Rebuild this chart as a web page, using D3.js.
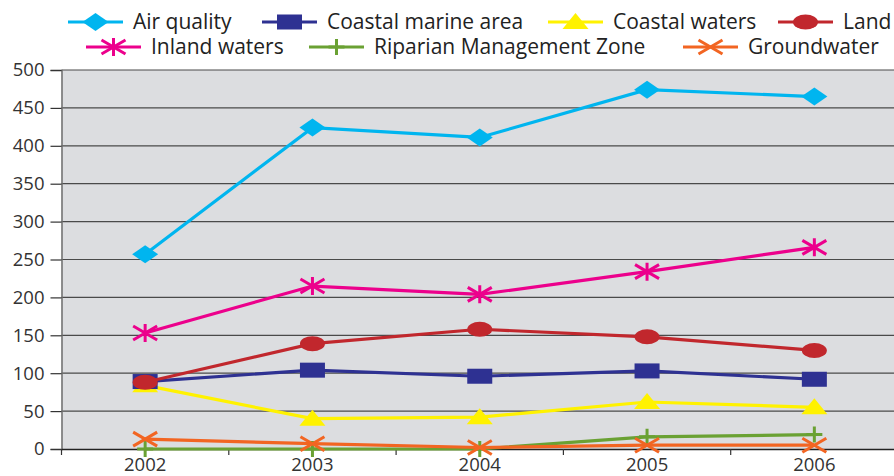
<!DOCTYPE html>
<html>
<head>
<meta charset="utf-8">
<script src="https://cdn.jsdelivr.net/npm/d3@7/dist/d3.min.js"></script>
<style>
  html, body { margin: 0; padding: 0; background: #ffffff; }
  svg { display: block; font-family: "Open Sans", "Noto Sans", sans-serif; }
</style>
</head>
<body>
<svg id="chart" width="894" height="476"></svg>
<script>
// Categories and series values
const years = ["2002", "2003", "2004", "2005", "2006"];
const airQuality = [257, 424, 411, 474, 465];
const coastalMarineArea = [89, 104, 96, 103, 92];
const coastalWaters = [84, 40, 42, 62, 55];
const land = [88, 139, 158, 148, 130];
const inlandWaters = [153, 215, 204, 234, 266];
const riparianZone = [0, 0, 0, 16, 19];
const groundwater = [13, 7, 2, 5, 5];
const yTicks = [0, 50, 100, 150, 200, 250, 300, 350, 400, 450, 500];

const series = [
  { name: "Air quality", values: airQuality, color: "#00b5ef", marker: "diamond" },
  { name: "Coastal marine area", values: coastalMarineArea, color: "#2e3192", marker: "square" },
  { name: "Coastal waters", values: coastalWaters, color: "#fff200", marker: "triangle" },
  { name: "Land", values: land, color: "#c1272d", marker: "circle" },
  { name: "Inland waters", values: inlandWaters, color: "#ec008c", marker: "asterisk" },
  { name: "Riparian Management Zone", values: riparianZone, color: "#6aa133", marker: "plus" },
  { name: "Groundwater", values: groundwater, color: "#f26522", marker: "cross" }
];

const svg = d3.select("#chart");
const plot = { left: 61.5, right: 898, top: 70, bottom: 449 };

const x = d3.scaleBand().domain(years).range([plot.left, plot.right]);
const y = d3.scaleLinear().domain([0, 500]).range([plot.bottom, plot.top]);

// Plot background
svg.append("rect")
  .attr("x", plot.left).attr("y", plot.top)
  .attr("width", plot.right - plot.left).attr("height", plot.bottom - plot.top)
  .attr("fill", "#dcdde0");

// Horizontal gridlines
svg.append("g")
  .selectAll("line")
  .data(yTicks.filter(d => d > 0))
  .join("line")
  .attr("x1", plot.left).attr("x2", plot.right)
  .attr("y1", d => y(d)).attr("y2", d => y(d))
  .attr("stroke", "#4a4a4a").attr("stroke-width", 1.2);

// Y axis
const yAxis = svg.append("g")
  .attr("transform", `translate(${plot.left},0)`)
  .call(d3.axisLeft(y).tickValues(yTicks).tickSize(11).tickPadding(6));
yAxis.select(".domain").attr("stroke", "#6d6d6d").attr("stroke-width", 1.5);
yAxis.selectAll(".tick line").attr("stroke", "#333").attr("stroke-width", 1.2);
yAxis.selectAll(".tick text")
  .attr("font-size", 18.5).attr("fill", "#333")
  .attr("font-family", "'Open Sans', 'Noto Sans', sans-serif");

// X axis with ticks at category boundaries
const xAxis = svg.append("g")
  .attr("transform", `translate(0,${plot.bottom})`)
  .call(d3.axisBottom(x).tickSize(0).tickPadding(9));
xAxis.select(".domain").attr("stroke", "#222").attr("stroke-width", 1.5);
xAxis.selectAll(".tick text")
  .attr("font-size", 18.5).attr("fill", "#333")
  .attr("font-family", "'Open Sans', 'Noto Sans', sans-serif");
xAxis.selectAll(".boundary")
  .data(years)
  .join("line")
  .attr("class", "boundary")
  .attr("x1", d => x(d)).attr("x2", d => x(d))
  .attr("y1", 0).attr("y2", 6)
  .attr("stroke", "#333").attr("stroke-width", 1.2);

// Marker shapes, drawn around (0,0)
function drawMarker(g, type, color) {
  switch (type) {
    case "diamond":
      g.append("path").attr("d", "M-13,0 L0,-9 L13,0 L0,9 Z").attr("fill", color);
      break;
    case "square":
      g.append("rect").attr("x", -12.5).attr("y", -7.5).attr("width", 25).attr("height", 15).attr("fill", color);
      break;
    case "triangle":
      g.append("path").attr("d", "M0,-9 L13,7 L-13,7 Z").attr("fill", color);
      break;
    case "circle":
      g.append("ellipse").attr("rx", 12.5).attr("ry", 7.5).attr("fill", color);
      break;
    case "asterisk":
      g.append("path").attr("d", "M-12,-7 L12,7 M-12,7 L12,-7 M0,-9 L0,9")
        .attr("stroke", color).attr("stroke-width", 3).attr("fill", "none");
      break;
    case "plus":
      g.append("path").attr("d", "M0,-8 L0,8 M-8,0 L8,0")
        .attr("stroke", color).attr("stroke-width", 3).attr("fill", "none");
      break;
    case "cross":
      g.append("path").attr("d", "M-12,-7 L12,7 M-12,7 L12,-7")
        .attr("stroke", color).attr("stroke-width", 3).attr("fill", "none");
      break;
  }
}

const line = d3.line()
  .x((d, i) => x(years[i]) + x.bandwidth() / 2)
  .y(d => y(d));

// Draw order so that later series sit on top
const drawOrder = ["Riparian Management Zone", "Groundwater", "Coastal waters",
  "Coastal marine area", "Land", "Inland waters", "Air quality"];

drawOrder.forEach(name => {
  const s = series.find(d => d.name === name);
  const g = svg.append("g");
  g.append("path")
    .attr("d", line(s.values))
    .attr("fill", "none")
    .attr("stroke", s.color)
    .attr("stroke-width", 3.2);
  s.values.forEach((v, i) => {
    const m = g.append("g")
      .attr("transform", `translate(${x(years[i]) + x.bandwidth() / 2},${y(v)})`);
    drawMarker(m, s.marker, s.color);
  });
});

// Legend: two rows
const legendRows = [
  [{ s: 0, x: 68 }, { s: 1, x: 262 }, { s: 2, x: 548 }, { s: 3, x: 778 }],
  [{ s: 4, x: 86 }, { s: 5, x: 309 }, { s: 6, x: 683 }]
];
const legendY = [22, 47];
legendRows.forEach((row, r) => {
  row.forEach(item => {
    const s = series[item.s];
    const g = svg.append("g").attr("transform", `translate(${item.x},${legendY[r]})`);
    g.append("line").attr("x1", 0).attr("x2", 55).attr("y1", 0).attr("y2", 0)
      .attr("stroke", s.color).attr("stroke-width", 3.2);
    const m = g.append("g").attr("transform", "translate(27.5,0)");
    drawMarker(m, s.marker, s.color);
    g.append("text")
      .attr("x", 65).attr("y", 0).attr("dy", "0.35em")
      .attr("font-size", 21).attr("fill", "#222")
      .text(s.name);
  });
});
</script>
</body>
</html>
